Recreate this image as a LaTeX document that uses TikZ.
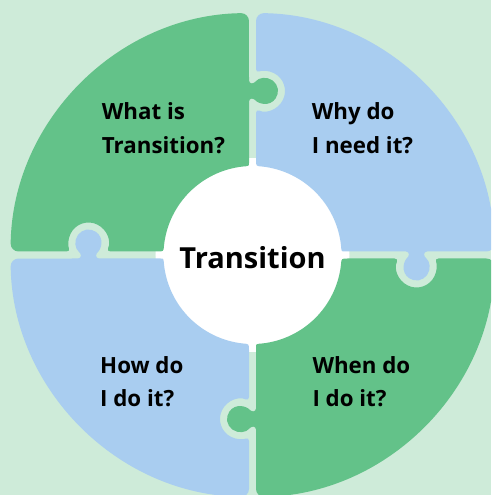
\documentclass[tikz,border=0pt]{standalone}
\usepackage{fontspec}
\setmainfont{Open Sans}
\definecolor{bgmint}{RGB}{206,235,217}
\definecolor{pzgreen}{RGB}{99,194,137}
\definecolor{pzblue}{RGB}{169,205,240}

\begin{document}
\begin{tikzpicture}[x=1pt, y=1pt,
    qtext/.style={font=\bfseries\fontsize{22.3}{33.3}\selectfont, align=left, anchor=base west, inner sep=0pt},
    hubnode/.style={circle, fill=white, minimum size=194pt, inner sep=0pt, text height=26.6pt, text depth=0pt, font=\bfseries\fontsize{29}{35}\selectfont}]
  \fill[bgmint] (-252.5,-240) rectangle (238.5,255);
  \clip (-252.5,-240) rectangle (238.5,255);
  \node[hubnode] (hub) at (0,0) {Transition};
  \foreach \a/\c in {0/pzblue, 90/pzgreen, 180/pzblue, 270/pzgreen}
    \fill[\c, rotate=\a]
      (3.5,95) [rounded corners=4] -- (3.5,146.14)
      arc[start angle=-116.74, end angle=116.74, radius=20]
      [rounded corners=8] -- (3.5,241.97)
      arc[start angle=89.17, end angle=0.83, radius=242]
      [rounded corners=3] -- (171.5,3.5) -- (171.5,-1.88)
      arc[start angle=54.77, end angle=-234.77, radius=13]
      -- (156.5,3.5) -- (95,3.5) [sharp corners]
      .. controls (88.93,3.5) .. (88.47,9.69)
      arc[start angle=6.25, end angle=83.75, radius=89]
      .. controls (3.5,88.93) .. (3.5,95) -- cycle;
  \node[qtext] (what) at (-150.8,101.7) {What is\\Transition?};
  \node[qtext] (why) at (59.2,101.7) {Why do\\I need it?};
  \node[qtext] (how) at (-152.5,-151.7) {How do\\I do it?};
  \node[qtext] (when) at (59.8,-151.7) {When do\\I do it?};
\end{tikzpicture}
\end{document}
